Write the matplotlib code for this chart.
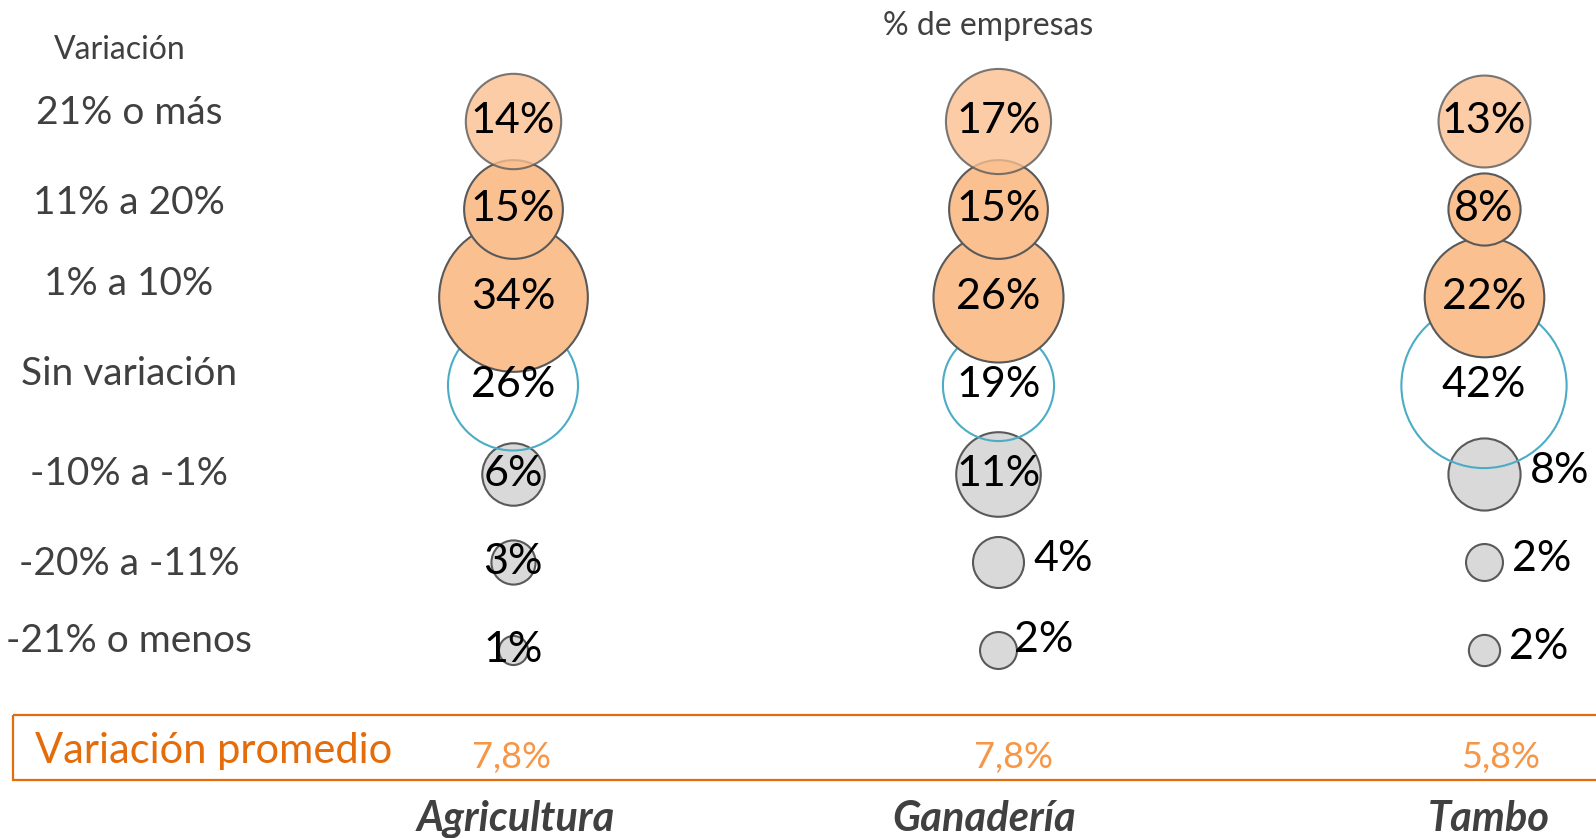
import matplotlib
matplotlib.use("Agg")
import matplotlib.pyplot as plt
from matplotlib.patches import Rectangle

# ---------------- data ----------------
row_labels = ["21% o más", "11% a 20%", "1% a 10%", "Sin variación",
              "-10% a -1%", "-20% a -11%", "-21% o menos"]
categories = ["Agricultura", "Ganadería", "Tambo"]
agricultura = [14, 15, 34, 26, 6, 3, 1.3]
ganaderia = [17, 15, 26, 19, 11, 4, 2.1]
tambo = [13, 8, 22, 42, 8, 2.1, 1.5]
promedio = ["7,8%", "7,8%", "5,8%"]

series = [agricultura, ganaderia, tambo]

# ---------------- layout (not data) ----------------
# label placement per bubble: 'c' centred, 'r' right, 't' right & tight
label_pos = [
    ["c"] * 7,
    ["c", "c", "c", "c", "c", "r", "t"],
    ["c", "c", "c", "c", "r", "r", "r"],
]
W, H = 1596, 838
row_label_y_px = [113, 203, 284, 374, 474, 564, 641]
prom_x_px = [512, 1013, 1501]
cat_x_px = [516, 984, 1489]

# ---------------- styling ----------------
FONT = "Lato"
plt.rcParams["font.family"] = [FONT, "DejaVu Sans"]
PEACH = "#FAC090"
GREY = "#D9D9D9"
EDGE = "#595959"
BLUE = "#4BACC6"
DARK = "#404040"
ORANGE = "#E46C0A"
LORANGE = "#F79646"
SCALE = 337.0  # points^2 per percentage point
LW = "normal"

fig = plt.figure(figsize=(W / 100, H / 100), dpi=100)
ax = fig.add_axes([0, 0, 1, 1])
ax.set_xlim(-1.0566, 2.2307)
ax.set_ylim(8.132, -1.372)
ax.axis("off")

for ci, vals in enumerate(series):
    # grey (negative variation) bubbles
    for r in (4, 5, 6):
        ax.scatter(ci, r, s=vals[r] * SCALE, facecolor=GREY, edgecolor=EDGE,
                   linewidth=1.5, zorder=2)
    # no variation ring
    ax.scatter(ci, 3, s=vals[3] * SCALE, facecolor="none", edgecolor=BLUE,
               linewidth=1.5, zorder=3)
    # positive variation bubbles
    ax.scatter(ci, 2, s=vals[2] * SCALE, facecolor=PEACH, edgecolor=EDGE,
               linewidth=1.5, zorder=4)
    ax.scatter(ci, 1, s=vals[1] * SCALE, facecolor=PEACH, edgecolor=EDGE,
               linewidth=1.5, zorder=5)
    ax.scatter(ci, 0, s=vals[0] * SCALE, facecolor=PEACH, edgecolor=EDGE,
               linewidth=1.5, alpha=0.8, zorder=6)

    # labels
    for r, v in enumerate(vals):
        txt = f"{round(v):d}%"
        mode = label_pos[ci][r]
        if mode == "c":
            ax.text(ci, r, txt, ha="center", va="center", fontsize=31,
                    fontweight=LW, color="black", zorder=10)
        else:
            radius_pt = (v * SCALE) ** 0.5 / 2
            dx, dy = (radius_pt + 7, 2) if mode == "r" else (radius_pt - 2, 7)
            ax.annotate(txt, (ci, r), xytext=(dx, dy),
                        textcoords="offset points", ha="left", va="center",
                        fontsize=31, fontweight=LW, color="black", zorder=10)

# row labels on the left
for lab, ypx in zip(row_labels, row_label_y_px):
    fig.text(129 / W, 1 - ypx / H, lab, ha="center", va="center",
             fontsize=28, fontweight=LW, color=DARK)

fig.text(120 / W, 1 - 50 / H, "Variación", ha="center", va="center",
         fontsize=23, fontweight=LW, color=DARK)
fig.text(988 / W, 1 - 26 / H, "% de empresas", ha="center", va="center",
         fontsize=23, fontweight=LW, color=DARK)

# average box
box = Rectangle((-1.03, 6.74), 4.0, 0.73, facecolor="none", edgecolor=ORANGE,
                linewidth=1.6, zorder=1, clip_on=True)
ax.add_patch(box)
ax.text(-0.985, 7.15, "Variación promedio", ha="left", va="center",
        fontsize=30, fontweight=LW, color=ORANGE)
for p, xpx in zip(promedio, prom_x_px):
    fig.text(xpx / W, 1 - 757 / H, p, ha="center", va="center",
             fontsize=26, fontweight=LW, color=LORANGE)

# category labels
for c, xpx in zip(categories, cat_x_px):
    fig.text(xpx / W, 1 - 819 / H, c, ha="center", va="center", fontsize=30,
             fontweight="bold", fontstyle="italic", color=DARK)

fig.savefig("out.png", dpi=100)
